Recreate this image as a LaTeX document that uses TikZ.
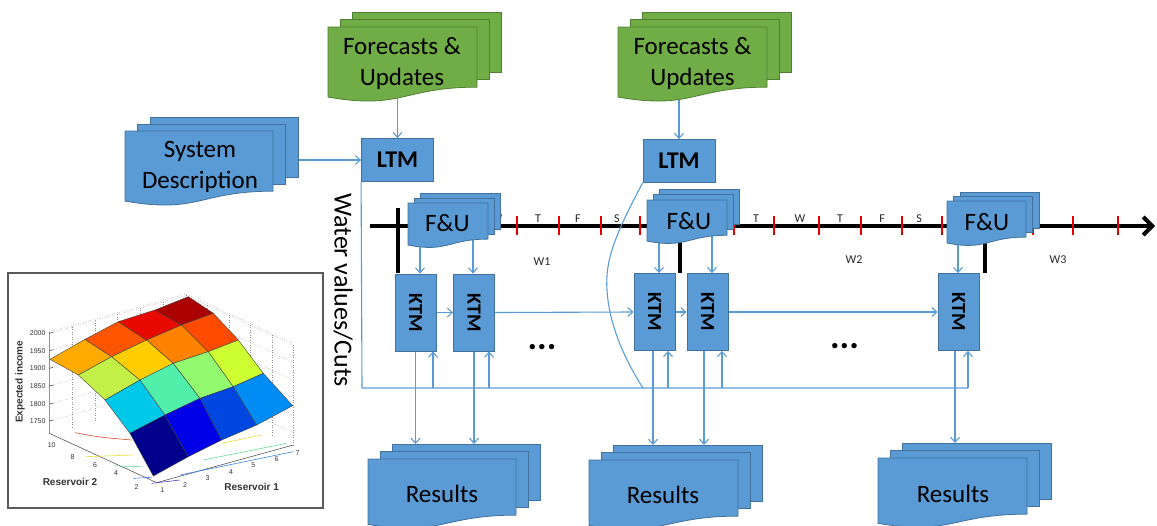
\documentclass[tikz,border=0pt]{standalone}
\usepackage{fontspec}
\setmainfont{Carlito}
\newfontfamily\plotfont{Liberation Sans}
\usepackage{graphicx}
\usetikzlibrary{arrows.meta}
\pgfdeclarelayer{bg}
\pgfsetlayers{bg,main}
\definecolor{cblue}{RGB}{91,155,213}
\definecolor{cbluedark}{RGB}{65,113,156}
\definecolor{cgreen}{RGB}{112,173,71}
\definecolor{cgreendark}{RGB}{80,126,50}
\definecolor{tickred}{RGB}{230,0,0}
% surface colours
\definecolor{p00}{RGB}{255,170,0}
\definecolor{p10}{RGB}{255,85,0}
\definecolor{p20}{RGB}{232,10,0}
\definecolor{p30}{RGB}{170,0,0}
\definecolor{p01}{RGB}{195,240,70}
\definecolor{p11}{RGB}{255,205,0}
\definecolor{p21}{RGB}{255,130,0}
\definecolor{p31}{RGB}{255,75,0}
\definecolor{p02}{RGB}{0,200,232}
\definecolor{p12}{RGB}{80,240,170}
\definecolor{p22}{RGB}{145,250,110}
\definecolor{p32}{RGB}{205,255,50}
\definecolor{p03}{RGB}{0,0,140}
\definecolor{p13}{RGB}{0,0,230}
\definecolor{p23}{RGB}{0,70,225}
\definecolor{p33}{RGB}{0,140,245}
% multi-document shape: #1 style, #2 x, #3 y (front top-left), #4 w, #5 h, #6 dx, #7 dy
\newcommand\mdoc[7]{%
  \path[#1] (#2+2*#6,#3-2*#7) rectangle (#2+2*#6+#4,#3-2*#7+0.8*#5);
  \path[#1] (#2+#6,#3-#7) rectangle (#2+#6+#4,#3-#7+0.8*#5);
  \path[#1] (#2,#3) -- (#2+#4,#3) -- (#2+#4,#3+0.802*#5)
    .. controls (#2+0.5*#4,#3+0.802*#5) and (#2+0.5*#4,#3+1.107*#5) .. (#2,#3+0.934*#5) -- cycle;
}
\newcommand\spatch[3]{%
  \pgfmathtruncatemacro\ia{#1+1}\pgfmathtruncatemacro\ja{#2+1}%
  \filldraw[fill=#3, draw=black!75, line width=0.4pt] (s-#1-#2) -- (s-\ia-#2) -- (s-\ia-\ja) -- (s-#1-\ja) -- cycle;}
\begin{document}
\begin{tikzpicture}[x=1pt,y=-1pt,
  conn/.style={draw=cblue, line width=1.1pt},
  arr/.style={conn, -{Straight Barb[length=5pt,width=9pt]}},
  bluepage/.style={fill=cblue, draw=cbluedark, line width=0.8pt},
  greenpage/.style={fill=cgreen, draw=cgreendark, line width=0.8pt},
  doctext/.style={font=\fontsize{25}{31}\selectfont, align=center, text=black, inner sep=0pt},
  ltmbox/.style={fill=cblue, draw=cbluedark, line width=0.8pt, minimum width=72pt, minimum height=43pt, inner sep=0pt, font=\fontsize{24}{24}\selectfont\bfseries},
  ktmbox/.style={fill=cblue, draw=cbluedark, line width=0.8pt, minimum width=41pt, minimum height=77pt, inner sep=0pt, font=\fontsize{20}{20}\selectfont\bfseries},
  dayl/.style={font=\fontsize{12}{12}\selectfont, inner sep=0pt, text=black!85},
  tl/.style={line width=4pt, draw=black},
  redtick/.style={draw=tickred, line width=2.6pt},
  grid/.style={draw=black!45, dotted, line width=0.5pt},
  axisl/.style={draw=black!65, line width=0.6pt},
  plotlab/.style={font=\plotfont\fontsize{7}{7}\selectfont, inner sep=0pt, text=black!80},
  plotttl/.style={font=\plotfont\bfseries\fontsize{10}{10}\selectfont, inner sep=0pt, text=black!80},
  ]
\useasboundingbox (0,0) rectangle (1157,525);
\clip (0,0) rectangle (1157,525);

% ---------- main nodes ----------
\node[ltmbox] (LTM1) at (397.5,160) {LTM};
\node[ltmbox] (LTM2) at (679,161) {LTM};
\node[ktmbox] (K1) at (415.5,312.5) {\rotatebox{-90}{KTM}};
\node[ktmbox] (K2) at (474,312.5) {\rotatebox{-90}{KTM}};
\node[ktmbox] (K3) at (654.5,312) {\rotatebox{-90}{KTM}};
\node[ktmbox] (K4) at (707.5,312) {\rotatebox{-90}{KTM}};
\node[ktmbox] (K5) at (958.5,312) {\rotatebox{-90}{KTM}};

% documents
\mdoc{greenpage}{328}{27}{149}{75}{12}{7.5}
\node[doctext] (fcL) at (402,63) {Forecasts \&\\Updates};
\mdoc{greenpage}{618}{27}{149}{75}{12}{7.5}
\node[doctext] (fcR) at (692.5,63) {Forecasts \&\\Updates};
\mdoc{bluepage}{125}{131}{148}{75}{12.5}{7}
\node[doctext] (sys) at (200,167) {System\\Description};
\mdoc{bluepage}{408}{203}{80}{45}{6}{5}
\node[doctext] (fu1) at (447.5,223) {F\&U};
\mdoc{bluepage}{647}{200}{80}{44}{6}{5.5}
\node[doctext] (fu2) at (689,221) {F\&U};
\mdoc{bluepage}{947}{201}{79}{45}{6.5}{4.5}
\node[doctext] (fu3) at (987,222) {F\&U};
\mdoc{bluepage}{368}{459}{148}{70}{12}{7.5}
\node[doctext] (res1) at (442,494) {Results};
\mdoc{bluepage}{589}{460}{149}{70}{12}{7.5}
\node[doctext] (res2) at (663,495) {Results};
\mdoc{bluepage}{878}{458}{149}{70}{12}{7.5}
\node[doctext] (res3) at (953,494) {Results};

\node[font=\fontsize{26}{26}\selectfont, rotate=-90, inner sep=0pt] (wv) at (343,290) {Water values/Cuts};
\node[font=\fontsize{36}{36}\selectfont\bfseries, inner sep=0pt] (dots1) at (542,347) {...};
\node[font=\fontsize{36}{36}\selectfont\bfseries, inner sep=0pt] (dots2) at (844.5,346) {...};

% ---------- helper coordinates ----------
\coordinate (tlstart) at (370,226);
\coordinate (tlend) at (1155,226);
\coordinate (loopL) at (362,388);
\coordinate (loopM) at (643,388);
\coordinate (loopR) at (968,388);
\coordinate (r1top) at (392,444);
\coordinate (r2top) at (613,445);
\coordinate (r3top) at (902,443);
\coordinate (u1) at ([xshift=17.5pt]K1.south);
\coordinate (u2) at ([xshift=15pt]K2.south);
\coordinate (u3) at ([xshift=13.5pt]K3.south);
\coordinate (u4) at ([xshift=14.5pt]K4.south);
\coordinate (u5) at ([xshift=9.5pt]K5.south);
\coordinate (d1) at ([xshift=4.5pt]K1.north);
\coordinate (d2) at ([xshift=-1pt]K2.north);
\coordinate (d3) at ([xshift=4.5pt]K3.north);
\coordinate (d4) at ([xshift=4.5pt]K4.north);
\coordinate (d5) at ([xshift=-0.5pt]K5.north);
\coordinate (o1) at (K1.south);
\coordinate (o2) at (K2.south);
\coordinate (o3) at ([xshift=-1.5pt]K3.south);
\coordinate (o4) at ([xshift=-3.5pt]K4.south);
\coordinate (o5) at ([xshift=-3.5pt]K5.south);

\begin{pgfonlayer}{bg}
  % timeline
  \draw[tl, -{Straight Barb[length=9pt,width=18pt]}] (tlstart) -- (tlend);
  \foreach \x in {517,559,601,640,734,774,819,861,902,942,1033,1073,1118}
    \draw[redtick] (\x,216) -- (\x,235);
  \draw[tl] (398,208) -- (398,273);
  \draw[tl] (680,236) -- (680,273);
  \draw[tl] (985,240) -- (985,273);
  \foreach \x/\d in {497/W,538/T,578/F,617/S,756/T,800/W,840/T,882/F,919/S}
    \node[dayl] at (\x,219) {\d};
  \node[dayl] (w1) at (542,261.5) {W1};
  \node[dayl] (w2) at (854,260) {W2};
  \node[dayl] (w3) at (1058,260) {W3};

  % inputs to LTM
  \draw[arr] (LTM1.north |- fcL.center) -- (LTM1.north);
  \draw[arr] (LTM2.north |- fcR.center) -- (LTM2.north);
  \draw[arr] (sys.center |- LTM1.west) -- (LTM1.west);

  % water value loops
  \draw[conn] (LTM1.south west) -- (loopL) -- (loopM);
  \draw[conn] (LTM2.south west) .. controls (615,235) and (605,260) .. (607,290)
     .. controls (609,325) and (625,360) .. (loopM) -- (loopR);
  \foreach \u in {u1,u2,u3,u4,u5}
    \draw[arr] (\u |- loopL) -- (\u);

  % F&U to KTM
  \draw[arr] (d1 |- fu1.center) -- (d1);
  \draw[arr] (d2 |- fu1.center) -- (d2);
  \draw[arr] (d3 |- fu2.center) -- (d3);
  \draw[arr] (d4 |- fu2.center) -- (d4);
  \draw[arr] (d5 |- fu3.center) -- (d5);

  % KTM chain
  \draw[arr] (K1.east) -- (K2.west);
  \draw[arr] (K2.east) -- (K3.west);
  \draw[arr] (K3.east) -- (K4.west);
  \draw[arr] (K4.east) -- (K5.west);

  % KTM to results
  \draw[arr] (o1) -- (o1 |- r1top);
  \draw[arr] (o2) -- (o2 |- r1top);
  \draw[arr] (o3) -- (o3 |- r2top);
  \draw[arr] (o4) -- (o4 |- r2top);
  \draw[arr] (o5) -- (o5 |- r3top);
\end{pgfonlayer}

% ---------- inset plot ----------
\draw[draw=black!65, line width=1.3pt] (8,273) rectangle (323,508);
\begin{scope}[yshift=-260pt, x=0.33333pt, y=-0.33333pt]
  % back walls grid
  \foreach \z in {220,272,325,378,432,483}
    \draw[grid] (148,\z) -- (558,\z-113) -- (880,\z+35);
  \draw[grid] (148,215) -- (558,102) -- (880,250);
  \foreach \k in {1,...,5}
    \draw[grid] (148+68.3*\k,520-18.8*\k) -- ++(0,-305);
  \foreach \k in {1,...,5}
    \draw[grid] (558+64.4*\k,407+29.6*\k) -- ++(0,-305);
  \draw[grid] (558,407) -- ++(0,-305);
  % axes
  \draw[axisl] (148,215) -- (148,520) -- (470,668) -- (880,555);
  \foreach \z in {220,272,325,378,432,483}
    \draw[axisl] (148,\z) -- (160,\z-3);
  % floor contours
  \draw[draw={rgb,255:red,230;green,70;blue,50}, line width=0.6pt] (225,518) .. controls (300,532) .. (395,540);
  \draw[draw={rgb,255:red,235;green,220;blue,60}, line width=0.6pt] (258,590) -- (400,585);
  \draw[draw={rgb,255:red,235;green,220;blue,60}, line width=0.6pt] (665,550) -- (785,525);
  \draw[draw={rgb,255:red,100;green,220;blue,150}, line width=0.6pt] (345,618) -- (425,620);
  \draw[draw={rgb,255:red,100;green,220;blue,150}, line width=0.6pt] (610,600) -- (860,550);
  \draw[draw={rgb,255:red,60;green,130;blue,230}, line width=0.6pt] (400,655) -- (455,652);
  \draw[draw={rgb,255:red,60;green,130;blue,230}, line width=0.6pt] (540,645) -- (880,575);
  \draw[draw={rgb,255:red,90;green,60;blue,200}, line width=0.6pt] (455,670) -- (540,660);
  % surface vertices
  \coordinate (s-0-0) at (150,298); \coordinate (s-1-0) at (255,238); \coordinate (s-2-0) at (355,185); \coordinate (s-3-0) at (465,150); \coordinate (s-4-0) at (565,110);
  \coordinate (s-0-1) at (235,345); \coordinate (s-1-1) at (335,290); \coordinate (s-2-1) at (440,240); \coordinate (s-3-1) at (545,195); \coordinate (s-4-1) at (640,160);
  \coordinate (s-0-2) at (315,420); \coordinate (s-1-2) at (420,360); \coordinate (s-2-2) at (520,310); \coordinate (s-3-2) at (625,275); \coordinate (s-4-2) at (715,240);
  \coordinate (s-0-3) at (390,520); \coordinate (s-1-3) at (495,465); \coordinate (s-2-3) at (600,415); \coordinate (s-3-3) at (700,380); \coordinate (s-4-3) at (790,340);
  \coordinate (s-0-4) at (460,648); \coordinate (s-1-4) at (565,590); \coordinate (s-2-4) at (665,540); \coordinate (s-3-4) at (770,495); \coordinate (s-4-4) at (878,437);
  \spatch{0}{0}{p00}\spatch{1}{0}{p10}\spatch{2}{0}{p20}\spatch{3}{0}{p30}
  \spatch{0}{1}{p01}\spatch{1}{1}{p11}\spatch{2}{1}{p21}\spatch{3}{1}{p31}
  \spatch{0}{2}{p02}\spatch{1}{2}{p12}\spatch{2}{2}{p22}\spatch{3}{2}{p32}
  \spatch{0}{3}{p03}\spatch{1}{3}{p13}\spatch{2}{3}{p23}\spatch{3}{3}{p33}
  % labels
  \foreach \z/\v in {220/2000,272/1950,325/1900,378/1850,432/1800,483/1750}
    \node[plotlab, anchor=east] at (137,\z) {\v};
  \foreach \x/\y/\v in {155/555/10,218/590/8,285/615/6,348/640/4,410/680/2}
    \node[plotlab] at (\x,\y) {\v};
  \foreach \x/\y/\v in {487/690/1,555/675/2,623/655/3,693/635/4,760/615/5,830/598/6,893/578/7}
    \node[plotlab] at (\x,\y) {\v};
  \node[plotttl] (res2lab) at (210,667) {Reservoir 2};
  \node[plotttl] (res1lab) at (755,680) {Reservoir 1};
  \node[plotttl, rotate=90] (zlab) at (60,365) {Expected income};
\end{scope}
\end{tikzpicture}
\end{document}
